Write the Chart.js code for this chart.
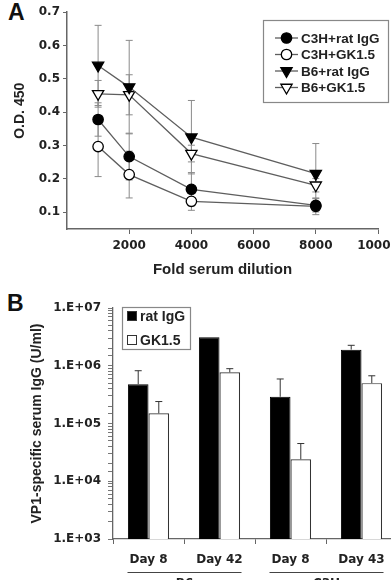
<!DOCTYPE html>
<html>
<head>
<meta charset="utf-8">
<script src="https://cdn.jsdelivr.net/npm/chart.js@4.4.1/dist/chart.umd.min.js"></script>
<style>
body { margin:0; background:#fff; overflow:hidden; width:391px; height:580px; position:relative; }
canvas { position:absolute; left:0; }
#chartA { top:0; }
#chartB { top:285px; }
.panel { position:absolute; font: bold 23px "Liberation Sans", Arial, sans-serif; color:#111; }
</style>
</head>
<body>
<div class="panel" style="left:8px;top:-1px">A</div>
<div class="panel" style="left:7px;top:290px">B</div>
<canvas id="chartA" width="410" height="285"></canvas>
<canvas id="chartB" width="410" height="295"></canvas>
<script>
// panel A - OD vs dilution
const dilutions = [1000, 2000, 4000, 8000];
const c3hRat = [0.378, 0.267, 0.169, 0.121];
const c3hRatErr = [0.05, 0.07, 0.05, 0.02];
const c3hGk = [0.297, 0.213, 0.133, 0.118];
const c3hGkErr = [0.09, 0.07, 0.027, 0.025];
const b6Rat = [0.54, 0.475, 0.325, 0.216];
const b6RatErr = [0.12, 0.14, 0.11, 0.09];
const b6Gk = [0.455, 0.452, 0.276, 0.181];
const b6GkErr = [0.04, 0.06, 0.025, 0.02];
const xTicksA = [2000, 4000, 6000, 8000, 10000];
const yTicksA = [0.1, 0.2, 0.3, 0.4, 0.5, 0.6, 0.7];

// panel B - serum IgG
const days = ['Day 8', 'Day 42', 'Day 8', 'Day 43'];
const strains = ['B6', 'C3H'];
const ratIgG = [480000, 3100000, 290000, 1900000];
const ratIgGErr = [340000, 0, 300000, 360000];
const gk15 = [150000, 770000, 24000, 500000];
const gk15Err = [90000, 120000, 21000, 170000];
const yTicksB = [1e3, 1e4, 1e5, 1e6, 1e7];

const tickFont = { family: 'DejaVu Sans', weight: 'bold', size: 12 };
const titleFam = '"Liberation Sans", Arial, sans-serif';

Chart.defaults.color = '#222';

function pts(ys) {
    return dilutions.map((d, i) => ({ x: d, y: ys[i] }));
}

function series(label, ys, err, style, fill) {
    return {
        label: label,
        data: pts(ys),
        err: err,
        borderColor: '#5e5e5e',
        borderWidth: 1.3,
        pointStyle: style,
        pointRotation: style === 'triangle' ? 180 : 0,
        pointRadius: style === 'triangle' ? 6.5 : 5.2,
        pointBackgroundColor: fill,
        pointBorderColor: '#000',
        pointBorderWidth: 1.3,
        tension: 0
    };
}

const errorBarsA = {
    id: 'errorBarsA',
    beforeDatasetsDraw(chart) {
        const ctx = chart.ctx;
        const x = chart.scales.x, y = chart.scales.y;
        ctx.save();
        ctx.strokeStyle = '#8a8a8a';
        ctx.lineWidth = 1;
        chart.data.datasets.forEach(ds => {
            ds.data.forEach((p, i) => {
                const px = x.getPixelForValue(p.x);
                const top = y.getPixelForValue(p.y + ds.err[i]);
                const bot = y.getPixelForValue(p.y - ds.err[i]);
                ctx.beginPath();
                ctx.moveTo(px, top); ctx.lineTo(px, bot);
                ctx.moveTo(px - 3.5, top); ctx.lineTo(px + 3.5, top);
                ctx.moveTo(px - 3.5, bot); ctx.lineTo(px + 3.5, bot);
                ctx.stroke();
            });
        });
        ctx.restore();
    }
};

const legendA = {
    id: 'legendA',
    afterDraw(chart) {
        const ctx = chart.ctx;
        ctx.save();
        ctx.strokeStyle = '#888';
        ctx.lineWidth = 1.2;
        ctx.strokeRect(263.5, 20.5, 125, 82);
        ctx.font = 'bold 13.5px ' + titleFam;
        ctx.textBaseline = 'middle';
        chart.data.datasets.forEach((ds, i) => {
            const ry = 38 + i * 16.5;
            ctx.strokeStyle = ds.borderColor;
            ctx.lineWidth = ds.borderWidth;
            ctx.beginPath();
            ctx.moveTo(275, ry); ctx.lineTo(298, ry);
            ctx.stroke();
            ctx.fillStyle = ds.pointBackgroundColor;
            ctx.strokeStyle = ds.pointBorderColor;
            ctx.lineWidth = ds.pointBorderWidth;
            Chart.helpers.drawPoint(ctx, {
                pointStyle: ds.pointStyle,
                rotation: ds.pointRotation,
                radius: ds.pointRadius,
                borderWidth: ds.pointBorderWidth
            }, 286.5, ry);
            ctx.fillStyle = '#222';
            ctx.fillText(ds.label, 301, ry + 1);
        });
        ctx.restore();
    }
};

const chartA = new Chart(document.getElementById('chartA'), {
    type: 'line',
    data: {
        datasets: [
            series('C3H+rat IgG', c3hRat, c3hRatErr, 'circle', '#000'),
            series('C3H+GK1.5', c3hGk, c3hGkErr, 'circle', '#fff'),
            series('B6+rat IgG', b6Rat, b6RatErr, 'triangle', '#000'),
            series('B6+GK1.5', b6Gk, b6GkErr, 'triangle', '#fff'),
        ]
    },
    options: {
        responsive: false,
        animation: false,
        layout: { padding: { top: 12, right: 32, left: 0, bottom: 0 } },
        plugins: { legend: { display: false }, tooltip: { enabled: false } },
        scales: {
            x: {
                type: 'linear', min: 0, max: 10000,
                afterBuildTicks(s) { s.ticks = xTicksA.map(v => ({ value: v })); },
                grid: { drawOnChartArea: false, tickLength: 5, color: '#666' },
                border: { color: '#666', width: 1.5 },
                ticks: { font: tickFont, padding: 5, autoSkip: false, maxRotation: 0, callback: v => String(v) },
                title: { display: true, text: 'Fold serum dilution', font: { family: titleFam, weight: 'bold', size: 15 }, padding: { bottom: 6, top: 0 } },
                afterFit(s) { s.height = 56; s.paddingLeft = 0; s.paddingRight = 0; }
            },
            y: {
                min: 0.05, max: 0.7,
                afterBuildTicks(s) { s.ticks = yTicksA.map(v => ({ value: v })); },
                grid: { drawOnChartArea: false, tickLength: 4, color: '#666' },
                border: { color: '#666', width: 1.5 },
                ticks: { font: tickFont, padding: 3, callback: v => v.toFixed(1) },
                title: { display: true, text: '     O.D. 450', font: { family: titleFam, weight: 'bold', size: 14 }, padding: { top: 12, bottom: 0 } },
                afterFit(s) { s.width = 67; s.paddingTop = 0; s.paddingBottom = 0; }
            }
        }
    },
    plugins: [errorBarsA, legendA]
});

const errorBarsB = {
    id: 'errorBarsB',
    afterDatasetsDraw(chart) {
        const ctx = chart.ctx, y = chart.scales.y;
        ctx.save();
        ctx.strokeStyle = '#333';
        ctx.lineWidth = 1;
        chart.data.datasets.forEach((ds, di) => {
            chart.getDatasetMeta(di).data.forEach((bar, i) => {
                if (!ds.err[i]) return;
                const top = y.getPixelForValue(ds.data[i] + ds.err[i]);
                ctx.beginPath();
                ctx.moveTo(bar.x, bar.y); ctx.lineTo(bar.x, top);
                ctx.moveTo(bar.x - 3.5, top); ctx.lineTo(bar.x + 3.5, top);
                ctx.stroke();
            });
        });
        ctx.restore();
    }
};

const legendB = {
    id: 'legendB',
    afterDraw(chart) {
        const ctx = chart.ctx;
        ctx.save();
        ctx.strokeStyle = '#888';
        ctx.lineWidth = 1.2;
        ctx.strokeRect(122.5, 22.5, 68, 42);
        ctx.font = 'bold 14px ' + titleFam;
        ctx.textBaseline = 'middle';
        chart.data.datasets.forEach((ds, i) => {
            const ry = 31 + i * 24;
            ctx.fillStyle = ds.backgroundColor;
            ctx.fillRect(127.5, ry - 4.5, 9, 9);
            ctx.strokeStyle = '#333';
            ctx.lineWidth = 1;
            ctx.strokeRect(127.5, ry - 4.5, 9, 9);
            ctx.fillStyle = '#222';
            ctx.fillText(ds.label, 140, ry + 1);
        });
        ctx.restore();
    }
};

const groupLabels = {
    id: 'groupLabels',
    afterDraw(chart) {
        const ctx = chart.ctx, x = chart.scales.x;
        ctx.save();
        ctx.strokeStyle = '#444';
        ctx.lineWidth = 1.2;
        ctx.fillStyle = '#222';
        ctx.font = 'bold 12px DejaVu Sans';
        ctx.textAlign = 'center';
        ctx.textBaseline = 'top';
        strains.forEach((s, g) => {
            const a = x.getPixelForValue(g * 2) - 21;
            const b = x.getPixelForValue(g * 2 + 1) + 22;
            ctx.beginPath();
            ctx.moveTo(a, 287.5); ctx.lineTo(b, 287.5);
            ctx.stroke();
            ctx.fillText(s, (a + b) / 2, 293);
        });
        ctx.restore();
    }
};

const chartB = new Chart(document.getElementById('chartB'), {
    type: 'bar',
    data: {
        labels: days,
        datasets: [
            { label: 'rat IgG', data: ratIgG, err: ratIgGErr, backgroundColor: '#000', borderColor: '#000', borderWidth: 1 },
            { label: 'GK1.5', data: gk15, err: gk15Err, backgroundColor: '#fff', borderColor: '#333', borderWidth: 1.2 },
        ]
    },
    options: {
        responsive: false,
        animation: false,
        layout: { padding: { top: 23, right: 13, left: 0, bottom: 0 } },
        plugins: { legend: { display: false }, tooltip: { enabled: false } },
        datasets: { bar: { categoryPercentage: 0.58, barPercentage: 1 } },
        scales: {
            x: {
                grid: { offset: true, drawOnChartArea: false, tickLength: 5, color: '#666' },
                border: { color: '#666', width: 1.3 },
                ticks: { font: { family: 'DejaVu Sans', weight: 'bold', size: 12 }, padding: 9, maxRotation: 0, autoSkip: false },
                afterFit(s) { s.height = 41; s.paddingLeft = 0; s.paddingRight = 0; }
            },
            y: {
                type: 'logarithmic', min: 1e3, max: 1e7,
                grid: { drawOnChartArea: false, tickLength: 5, color: '#777' },
                border: { color: '#666', width: 1.3 },
                ticks: {
                    font: tickFont, padding: 7, autoSkip: false,
                    callback(v) {
                        if (!yTicksB.includes(v)) return '';
                        return '1.E+0' + Math.round(Math.log10(v));
                    }
                },
                title: { display: true, text: 'VP1-specific serum IgG (U/ml)', font: { family: titleFam, weight: 'bold', size: 14 }, padding: { top: 29, bottom: 0 } },
                afterFit(s) { s.width = 113; s.paddingTop = 0; s.paddingBottom = 0; }
            }
        }
    },
    plugins: [errorBarsB, legendB, groupLabels]
});
</script>
</body>
</html>
